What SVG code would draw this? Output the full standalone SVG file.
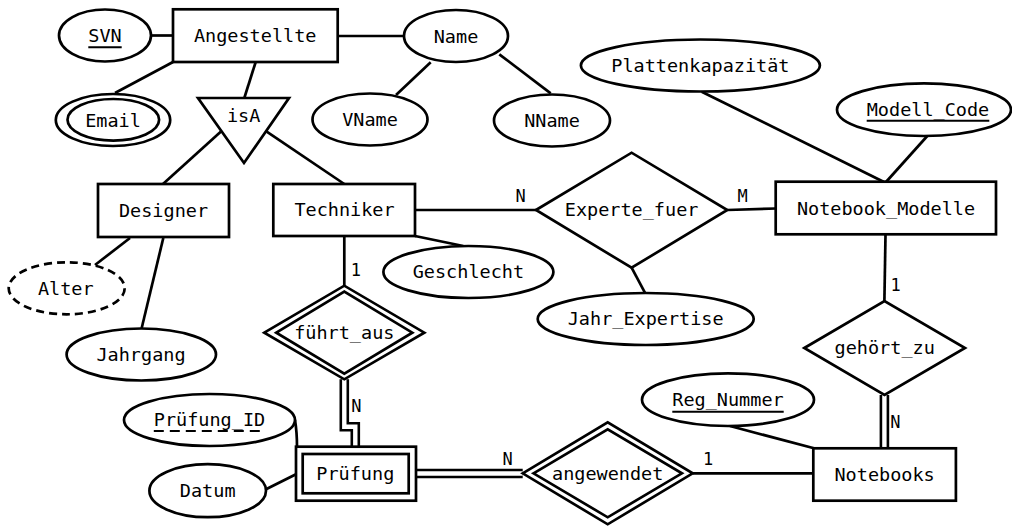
<svg xmlns="http://www.w3.org/2000/svg" width="1012" height="526" viewBox="0 0 1012 526">
<style>
.s{fill:#fff;stroke:#000;stroke-width:2.7}
.d{stroke-dasharray:8,5}
.l{fill:none;stroke:#000;stroke-width:2.7}
.u{fill:none;stroke:#000;stroke-width:2}
.ud{fill:none;stroke:#000;stroke-width:2;stroke-dasharray:10,6}
.dbo{fill:none;stroke:#000;stroke-width:9.6;stroke-linejoin:miter}
.dbi{fill:none;stroke:#fff;stroke-width:4.4;stroke-linejoin:miter}
text{font-family:"DejaVu Sans Mono","Liberation Mono",monospace;font-size:18.5px;fill:#000;text-anchor:middle}
.c{font-size:17px}
</style>
<rect width="1012" height="526" fill="#fff"/>
<g id="connectors">
<line class="l" x1="151" y1="35.5" x2="173" y2="35.5"/>
<line class="l" x1="115" y1="93" x2="173" y2="62"/>
<line class="l" x1="255.7" y1="62" x2="244.3" y2="98"/>
<line class="l" x1="220.7" y1="131.7" x2="163" y2="184"/>
<line class="l" x1="266.7" y1="131.7" x2="344.3" y2="184"/>
<line class="l" x1="337.7" y1="36" x2="404" y2="36"/>
<line class="l" x1="430.7" y1="62.3" x2="396" y2="95"/>
<line class="l" x1="499.3" y1="54.3" x2="550.7" y2="93.3"/>
<line class="l" x1="130" y1="238" x2="95" y2="265"/>
<line class="l" x1="163.3" y1="238" x2="141.7" y2="328"/>
<line class="l" x1="415" y1="210" x2="536" y2="210"/>
<line class="l" x1="415" y1="236" x2="463.3" y2="246"/>
<line class="l" x1="631.6" y1="267.7" x2="645.3" y2="293.3"/>
<line class="l" x1="727.3" y1="210" x2="776" y2="208.5"/>
<line class="l" x1="701.7" y1="91.7" x2="884" y2="182"/>
<line class="l" x1="927.3" y1="136" x2="886" y2="182"/>
<line class="l" x1="344.3" y1="236" x2="344.3" y2="285.7"/>
<path class="dbo" d="M344.3,379.3 V426.7 H355.3 V447"/>
<path class="dbi" d="M344.3,379.3 V426.7 H355.3 V447"/>
<path class="l" d="M295,420 Q297,432 297,447"/>
<line class="l" x1="266" y1="489.3" x2="296" y2="474.3"/>
<path class="dbo" d="M416,473.5 H522.7"/>
<path class="dbi" d="M416,473.5 H522.7"/>
<line class="l" x1="693" y1="473.3" x2="813.3" y2="473.3"/>
<line class="l" x1="885.5" y1="235" x2="884.4" y2="301"/>
<path class="dbo" d="M884.4,395 V448"/>
<path class="dbi" d="M884.4,395 V448"/>
<line class="l" x1="730" y1="426" x2="814" y2="448.3"/>
<text class="c" x="520.5" y="201.7">N</text>
<text class="c" x="742.5" y="201.7">M</text>
<text class="c" x="355.8" y="276">1</text>
<text class="c" x="356.3" y="411.7">N</text>
<text class="c" x="895.7" y="290.7">1</text>
<text class="c" x="895.4" y="427.7">N</text>
<text class="c" x="507.7" y="465">N</text>
<text class="c" x="708" y="465">1</text>
</g>
<g id="Angestellte"><rect class="s" x="173" y="9.3" width="164.7" height="52.7"/><text x="255.2" y="41.5">Angestellte</text></g>
<g id="SVN"><ellipse class="s" cx="105" cy="35.5" rx="46" ry="26"/><text x="105" y="41.5">SVN</text><line class="u" x1="88.3" y1="47.3" x2="121.7" y2="47.3"/></g>
<g id="Email"><ellipse class="s" cx="113" cy="120" rx="57.2" ry="26"/><ellipse class="s" cx="113.3" cy="119.8" rx="45.8" ry="20.8"/><text x="113" y="126.5">Email</text></g>
<g id="isA"><polygon class="s" points="198,98 289,98 244,163"/><text x="243.7" y="122">isA</text></g>
<g id="Name"><ellipse class="s" cx="456" cy="36" rx="52" ry="26"/><text x="456" y="42.5">Name</text></g>
<g id="VName"><ellipse class="s" cx="370" cy="119.5" rx="57.5" ry="26"/><text x="370" y="126">VName</text></g>
<g id="NName"><ellipse class="s" cx="552" cy="120.5" rx="58" ry="26"/><text x="552" y="127">NName</text></g>
<g id="Designer"><rect class="s" x="98" y="184" width="131" height="53"/><text x="163.5" y="216.7">Designer</text></g>
<g id="Techniker"><rect class="s" x="273.3" y="184" width="141.7" height="52"/><text x="344.5" y="216">Techniker</text></g>
<g id="Alter"><ellipse class="s d" cx="66.7" cy="288.3" rx="58" ry="26"/><text x="65.8" y="295">Alter</text></g>
<g id="Jahrgang"><ellipse class="s" cx="141.3" cy="354.5" rx="74.7" ry="26"/><text x="141" y="360.5">Jahrgang</text></g>
<g id="Geschlecht"><ellipse class="s" cx="468.4" cy="272" rx="85" ry="26"/><text x="468.4" y="278">Geschlecht</text></g>
<g id="Experte_fuer"><polygon class="s" points="536,210 631.6,152.7 727.3,210 631.6,267.7"/><text x="631.6" y="216">Experte_fuer</text></g>
<g id="Jahr_Expertise"><ellipse class="s" cx="645.7" cy="319" rx="108" ry="26"/><text x="645.7" y="325">Jahr_Expertise</text></g>
<g id="Plattenkapazitaet"><ellipse class="s" cx="700.4" cy="65.5" rx="119.5" ry="26"/><text x="700.4" y="71.7">Plattenkapazität</text></g>
<g id="Modell_Code"><ellipse class="s" cx="924" cy="109.7" rx="87" ry="26.3"/><text x="928" y="116">Modell_Code</text><line class="u" x1="866.7" y1="120.7" x2="989.3" y2="120.7"/></g>
<g id="Notebook_Modelle"><rect class="s" x="775.7" y="181.7" width="220.3" height="52.6"/><text x="886" y="215">Notebook_Modelle</text></g>
<g id="fuehrt_aus"><polygon class="s" points="264.3,332.7 344.3,285.7 424.3,332.7 344.3,379.3"/><polygon class="s" points="276.3,332.7 344.3,291.7 412.3,332.7 344.3,373.7"/><text x="344.3" y="338.5">führt_aus</text></g>
<g id="Pruefung_ID"><ellipse class="s" cx="209.5" cy="420" rx="85.5" ry="26"/><text x="209.5" y="426.3">Prüfung_ID</text><line class="ud" x1="153.8" y1="431" x2="265.2" y2="431"/></g>
<g id="Datum"><ellipse class="s" cx="207.7" cy="490.7" rx="58.3" ry="26.5"/><text x="207.7" y="496.7">Datum</text></g>
<g id="Pruefung"><rect class="s" x="296" y="446.7" width="120" height="54"/><rect class="s" x="302.7" y="454" width="106" height="39.3"/><text x="355.3" y="479.5">Prüfung</text></g>
<g id="angewendet"><polygon class="s" points="522.7,473.3 607.7,422.3 692.7,473.3 607.7,524.3"/><polygon class="s" points="533.5,473.3 607.7,429.3 681.9,473.3 607.7,517.3"/><text x="607.7" y="479.5">angewendet</text></g>
<g id="gehoert_zu"><polygon class="s" points="804.3,348 884.5,301 965,348 884.5,395"/><text x="884.7" y="354">gehört_zu</text></g>
<g id="Reg_Nummer"><ellipse class="s" cx="728" cy="399.7" rx="86" ry="26.3"/><text x="728" y="406">Reg_Nummer</text><line class="u" x1="672.3" y1="411.7" x2="783.7" y2="411.7"/></g>
<g id="Notebooks"><rect class="s" x="813.3" y="448.3" width="142.6" height="52.4"/><text x="884.6" y="480.8">Notebooks</text></g>
</svg>
